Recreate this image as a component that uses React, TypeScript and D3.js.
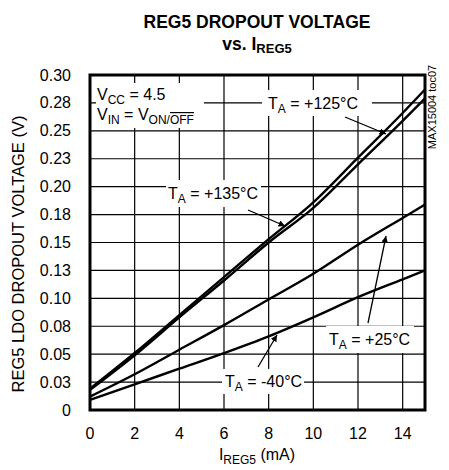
import React from 'react'
import * as d3 from 'd3'

// I_REG5 (mA) sample points
const currents = [0, 2, 4, 6, 8, 10, 12, 14, 15]
// dropout voltage (V) per temperature
const t135 = [0.019, 0.051, 0.085, 0.119, 0.153, 0.186, 0.226, 0.266, 0.287]
const t125 = [0.018, 0.049, 0.083, 0.116, 0.150, 0.181, 0.220, 0.259, 0.279]
const t25 = [0.012, 0.032, 0.054, 0.076, 0.099, 0.122, 0.148, 0.172, 0.184]
const tm40 = [0.009, 0.023, 0.037, 0.051, 0.066, 0.083, 0.101, 0.117, 0.125]

const xTicks = [0, 2, 4, 6, 8, 10, 12, 14]
const yTicks = [0, 0.025, 0.05, 0.075, 0.1, 0.125, 0.15, 0.175, 0.2, 0.225, 0.25, 0.275, 0.3]
const yTickLabels = ['0', '0.03', '0.05', '0.08', '0.10', '0.13', '0.15', '0.18', '0.20', '0.23', '0.25', '0.28', '0.30']

const W = 449
const H = 470
const FONT = '"Liberation Sans", Arial, sans-serif'

export default function App() {
  const x = d3.scaleLinear().domain([0, 15]).range([90, 425])
  const y = d3.scaleLinear().domain([0, 0.3]).range([410, 75])

  const line = d3.line<number>()
    .x((_, i) => x(currents[i]))
    .y((d) => y(d))
    .curve(d3.curveMonotoneX)

  const series = [t135, t125, t25, tm40]

  // white boxes behind labels (hide the grid)
  const boxes = [
    [96, 83, 108, 45],
    [262, 90, 110, 26],
    [166, 180, 95, 27],
    [326, 326, 88, 27],
    [222, 369, 82, 25],
  ]

  const sub = (s: string) => (
    <tspan fontSize={12} dy={4}>{s}</tspan>
  )

  const arrows = [
    [248, 210, 285, 226],
    [345, 117, 386, 134],
    [368, 323, 386, 236],
    [258, 367, 277, 335],
  ]

  return (
    <svg width={W} height={H} style={{ position: 'absolute', left: 0, top: 0 }} fontFamily={FONT}>
      <defs>
        <marker id="ah" viewBox="0 0 10 10" refX={10} refY={5} markerWidth={5} markerHeight={5} orient="auto">
          <path d="M0,0 L10,5 L0,10 z" fill="#000" />
        </marker>
      </defs>
      <rect width={W} height={H} fill="#fff" />

      {/* title */}
      <text x={257} y={28} textAnchor="middle" fontWeight="bold" fontSize={17.5}>REG5 DROPOUT VOLTAGE</text>
      <text x={257} y={50} textAnchor="middle" fontWeight="bold" fontSize={17.5}>
        vs. I<tspan fontSize={13} dy={3}>REG5</tspan>
      </text>

      {/* grid */}
      {xTicks.slice(1).map((t) => (
        <line key={'gx' + t} x1={x(t)} x2={x(t)} y1={y(0.3)} y2={y(0)} stroke="#000" strokeWidth={1.2} />
      ))}
      {yTicks.slice(1, -1).map((t) => (
        <line key={'gy' + t} x1={x(0)} x2={x(15)} y1={y(t)} y2={y(t)} stroke="#000" strokeWidth={1.2} />
      ))}

      {boxes.map(([bx, by, bw, bh], i) => (
        <rect key={'b' + i} x={bx} y={by} width={bw} height={bh} fill="#fff" />
      ))}

      {/* curves */}
      {series.map((s, i) => (
        <path key={'s' + i} d={line(s) ?? ''} fill="none" stroke="#000" strokeWidth={2.4} />
      ))}

      {/* arrows */}
      {arrows.map(([x1, y1, x2, y2], i) => (
        <line key={'a' + i} x1={x1} y1={y1} x2={x2} y2={y2} stroke="#000" strokeWidth={1.3} markerEnd="url(#ah)" />
      ))}

      {/* frame */}
      <rect x={x(0)} y={y(0.3)} width={x(15) - x(0)} height={y(0) - y(0.3)} fill="none" stroke="#000" strokeWidth={3} />

      {/* tick labels */}
      {xTicks.map((t) => (
        <text key={'tx' + t} x={x(t)} y={439} textAnchor="middle" fontSize={16}>{t}</text>
      ))}
      {yTicks.map((t, i) => (
        <text key={'ty' + t} x={71} y={y(t) + 5.5} textAnchor="end" fontSize={16}>{yTickLabels[i]}</text>
      ))}

      {/* axis titles */}
      <text x={257} y={460} textAnchor="middle" fontSize={16}>
        I<tspan fontSize={12} dy={4}>REG5</tspan><tspan dy={-4}> (mA)</tspan>
      </text>
      <text transform="translate(24,254) rotate(-90)" textAnchor="middle" fontSize={16.5}>REG5 LDO DROPOUT VOLTAGE (V)</text>
      <text transform="translate(436,107) rotate(-90)" textAnchor="middle" fontSize={11}>MAX15004 toc07</text>

      {/* annotations */}
      <text x={97} y={100} fontSize={16}>V{sub('CC')}<tspan dy={-4}> = 4.5</tspan></text>
      <text x={97} y={120} fontSize={16}>
        V{sub('IN')}<tspan dy={-4}> = V</tspan><tspan fontSize={12} dy={4}>ON/</tspan><tspan fontSize={12} textDecoration="overline">OFF</tspan>
      </text>
      <text x={268} y={109} fontSize={16}>T{sub('A')}<tspan dy={-4}> = +125°C</tspan></text>
      <text x={168} y={199} fontSize={16}>T{sub('A')}<tspan dy={-4}> = +135°C</tspan></text>
      <text x={329} y={345} fontSize={16}>T{sub('A')}<tspan dy={-4}> = +25°C</tspan></text>
      <text x={225} y={387} fontSize={16}>T{sub('A')}<tspan dy={-4}> = -40°C</tspan></text>
    </svg>
  )
}
